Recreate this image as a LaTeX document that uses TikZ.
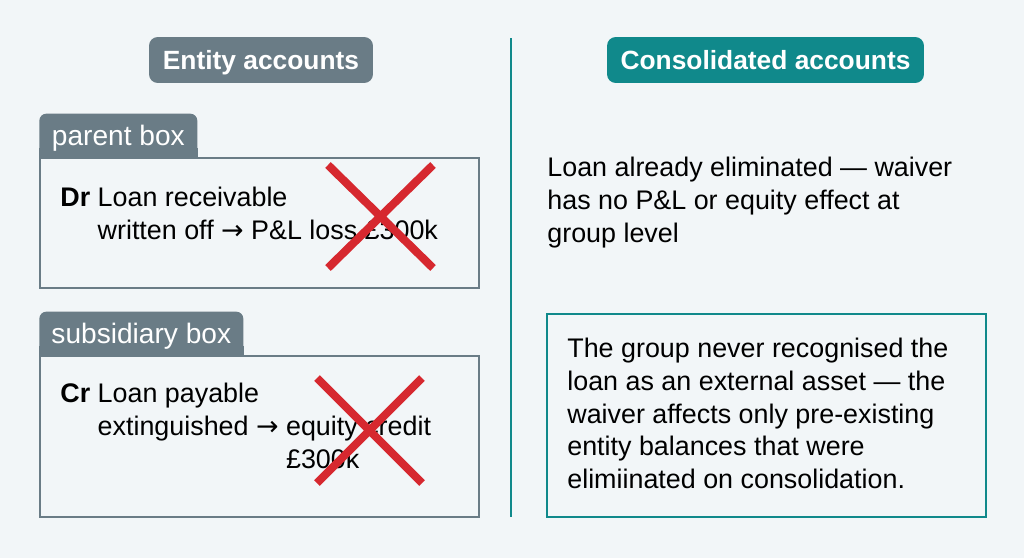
\documentclass[tikz,border=0pt]{standalone}
\usepackage{fontspec}
\setmainfont{Liberation Sans}
\newfontfamily\arrowfont{DejaVu Sans}
\newcommand{\toarrow}{{\arrowfont →}}
\usetikzlibrary{calc}
\usetikzlibrary{positioning}

\definecolor{paper}{HTML}{F2F6F8}
\definecolor{slate}{HTML}{6A7C86}
\definecolor{tealmain}{HTML}{10898B}
\definecolor{crossred}{HTML}{D6282F}

\begin{document}
\begin{tikzpicture}[x=0.02cm,y=-0.02cm,
    pill/.style={fill=#1,text=white,rounded corners=5pt,inner sep=0pt,
      minimum height=0.92cm,text height=13pt,text depth=2pt,
      font=\bfseries\fontsize{15}{18}\selectfont},
    tab/.style={fill=slate,rounded corners=4pt,inner sep=0pt,
      minimum height=0.86cm},
    tablabel/.style={text=white,inner sep=0pt,text height=13.5pt,text depth=2pt,
      font=\fontsize{16}{18}\selectfont},
    entrybox/.style={draw=#1,line width=1.4pt,fill=paper,inner sep=0pt,
      anchor=north west,minimum width=8.78cm},
    entry/.style={align=left,inner sep=0pt,anchor=north west,
      font=\fontsize{15.3}{18.6}\selectfont},
    cross/.style={draw=crossred,line width=4.6pt}]

  % page
  \fill[paper] (0,0) rectangle (1024,558);
  \useasboundingbox (0,0) rectangle (1024,558);

  % headings
  \node [pill=slate,minimum width=4.48cm] (entityhead) at (261,60) {Entity accounts};
  \node [pill=tealmain,minimum width=6.34cm] (consolhead) at (765.5,60) {Consolidated accounts};

  % divider
  \coordinate (divtop) at (511,38);
  \coordinate (divbot) at (511,517);
  \draw [tealmain,line width=1.4pt] (divtop) -- (divbot);

  % entity side
  \node [entrybox=slate,minimum height=2.6cm] (pbox) at (39,157) {};
  \node [tab,minimum width=3.16cm,above right=0pt and 0pt of pbox.north west] (ptab) {};
  \fill [slate] ([yshift=5pt]ptab.south west) rectangle (ptab.south east);
  \node [tablabel] (ptablabel) at (ptab) {parent box};
  \node [entry,below right=0.6cm and 0.42cm of pbox.north west] (pentry)
    {\textbf{Dr} Loan receivable\\
     \phantom{\textbf{Dr}}\ written off \toarrow{} P\&L loss £300k};

  \node [entrybox=slate,minimum height=3.22cm] (sbox) at (39,355) {};
  \node [tab,minimum width=4.08cm,above right=0pt and 0pt of sbox.north west] (stab) {};
  \fill [slate] ([yshift=5pt]stab.south west) rectangle (stab.south east);
  \node [tablabel] (stablabel) at (stab) {subsidiary box};
  \node [entry,below right=0.56cm and 0.42cm of sbox.north west] (sentry)
    {\textbf{Cr} Loan payable\\
     \phantom{\textbf{Cr}}\ extinguished \toarrow{} equity credit\\
     \phantom{\textbf{Cr}}\ \phantom{extinguished \toarrow{}}\ £300k};

  % crosses
  \coordinate (pxa) at (328,165);
  \coordinate (pxb) at (433,268);
  \coordinate (pxc) at (433,165);
  \coordinate (pxd) at (328,268);
  \path [cross] (pxa) -- (pxb) (pxc) -- (pxd);

  \coordinate (sxa) at (317,378);
  \coordinate (sxb) at (422,483);
  \coordinate (sxc) at (422,378);
  \coordinate (sxd) at (317,483);
  \path [cross] (sxa) -- (sxb) (sxc) -- (sxd);

  % consolidated side
  \node [entry] (cnote) at (547,157)
    {Loan already eliminated — waiver\\
     has no P\&L or equity effect at\\
     group level};

  \node [entrybox=tealmain,minimum height=4.06cm] (cbox) at (546,313) {};
  \node [entry,below right=0.5cm and 0.42cm of cbox.north west] (centry)
    {The group never recognised the\\
     loan as an external asset — the\\
     waiver affects only pre-existing\\
     entity balances that were\\
     elimiinated on consolidation.};

\end{tikzpicture}
\end{document}
